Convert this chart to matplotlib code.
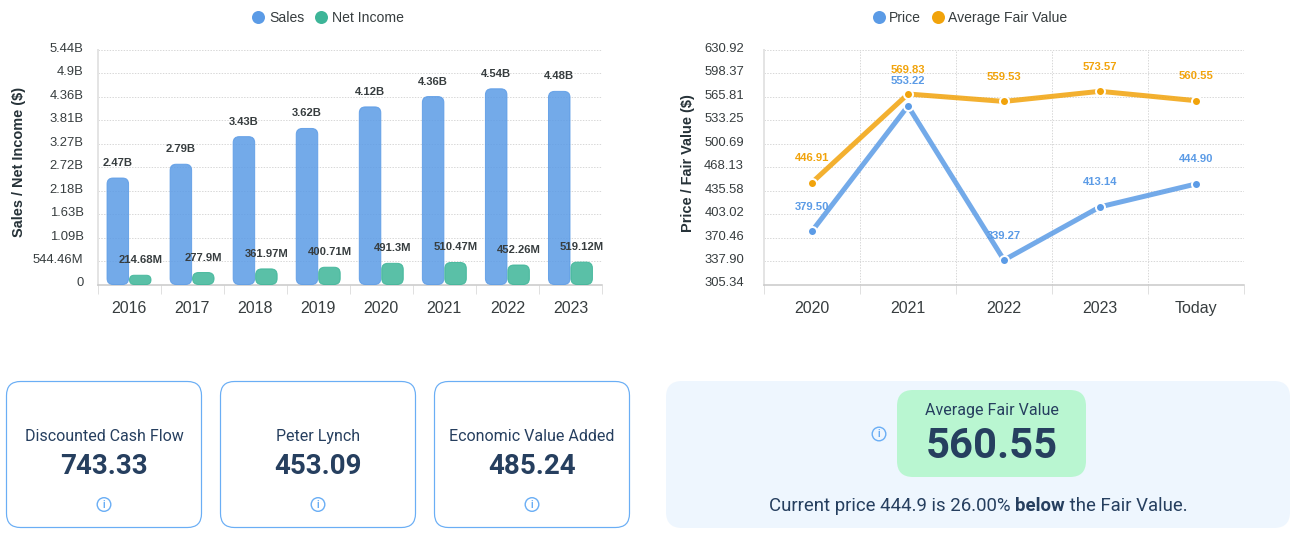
import matplotlib
matplotlib.use("Agg")
import matplotlib.pyplot as plt
from matplotlib.patches import FancyBboxPatch, Circle
from matplotlib.lines import Line2D
from matplotlib.transforms import ScaledTranslation

W, H = 1296, 533
DPI = 100
PX = 72 / DPI  # points per pixel

# ---------- data ----------
years = ["2016", "2017", "2018", "2019", "2020", "2021", "2022", "2023"]
sales = [2.47e9, 2.79e9, 3.43e9, 3.62e9, 4.12e9, 4.36e9, 4.54e9, 4.48e9]
net_income = [214.68e6, 277.9e6, 361.97e6, 400.71e6, 491.3e6, 510.47e6, 452.26e6, 519.12e6]
sales_labels = ["2.47B", "2.79B", "3.43B", "3.62B", "4.12B", "4.36B", "4.54B", "4.48B"]
net_labels = ["214.68M", "277.9M", "361.97M", "400.71M", "491.3M", "510.47M", "452.26M", "519.12M"]
left_ticks = [0, 544.46e6, 1.09e9, 1.63e9, 2.18e9, 2.72e9, 3.27e9, 3.81e9, 4.36e9, 4.9e9, 5.44e9]
left_ticklabels = ["0", "544.46M", "1.09B", "1.63B", "2.18B", "2.72B", "3.27B", "3.81B", "4.36B", "4.9B", "5.44B"]

periods = ["2020", "2021", "2022", "2023", "Today"]
price = [379.50, 553.22, 339.27, 413.14, 444.90]
fair_value = [446.91, 569.83, 559.53, 573.57, 560.55]
right_ticks = [305.34, 337.90, 370.46, 403.02, 435.58, 468.13, 500.69, 533.25, 565.81, 598.37, 630.92]

cards = [("Discounted Cash Flow", "743.33"), ("Peter Lynch", "453.09"), ("Economic Value Added", "485.24")]

# ---------- style ----------
BLUE = "#5B9BE6"
GREEN = "#3DB598"
ORANGE = "#F1A30B"
DARK = "#263F5F"
LABEL = "#373D3F"
GRID = "#D8D8D8"
ICON = "#6AAEF5"
SANS = ["Liberation Sans", "DejaVu Sans"]
RB = ["Roboto", "DejaVu Sans"]

plt.rcParams["font.family"] = SANS
fig = plt.figure(figsize=(W / DPI, H / DPI), dpi=DPI, facecolor="white")


def axes_px(x0, x1, ytop, ybot):
    return fig.add_axes([x0 / W, 1 - ybot / H, (x1 - x0) / W, (ybot - ytop) / H])


def style_axes(ax, edges, centers, names, ypad):
    for s in ("top", "right"):
        ax.spines[s].set_visible(False)
    ax.spines["left"].set_color("#E4E4E4")
    ax.spines["left"].set_linewidth(2 * PX)
    ax.spines["bottom"].set_color("#C8C8C8")
    ax.spines["bottom"].set_linewidth(1.5 * PX)
    ax.set_xticks(edges)
    ax.set_xticklabels([""] * len(edges))
    ax.set_xticks(centers, minor=True)
    ax.set_xticklabels(names, minor=True, fontsize=16 * PX, color="#373D3F")
    ax.tick_params(axis="x", which="major", length=9 * PX, width=1 * PX, color="#E0E0E0")
    ax.tick_params(axis="x", which="minor", length=0, pad=16.5 * PX)
    ax.tick_params(axis="y", length=0, pad=ypad * PX, labelsize=13 * PX, labelcolor="#373D3F")
    shift = ScaledTranslation(0, 2.5 / DPI, fig.dpi_scale_trans)
    for lab in ax.get_yticklabels():
        lab.set_transform(lab.get_transform() + shift)
    ax.set_axisbelow(True)


# ---------- overlay in pixel coordinates for the cards ----------
bg = fig.add_axes([0, 0, 1, 1], zorder=0)
bg.set_xlim(0, W)
bg.set_ylim(H, 0)
bg.axis("off")


def rounded(x0, y0, x1, y1, r, **kw):
    bg.add_patch(FancyBboxPatch((x0, y0), x1 - x0, y1 - y0,
                                boxstyle=f"round,pad=0,rounding_size={r}", **kw))


def info(x, y, r=6.8):
    bg.add_patch(Circle((x, y), r, fc="none", ec=ICON, lw=1.4 * PX))
    bg.text(x, y + 0.4, "i", ha="center", va="center", fontsize=10 * PX, color=ICON,
            family=RB, fontweight="bold")


# ---------- left chart ----------
ax1 = axes_px(97.5, 602, 50, 284.5)
xpos = list(range(len(years)))
ax1.set_xlim(-0.5, len(years) - 0.5)
ax1.set_ylim(0, 5.44e9)
ax1.set_yticks(left_ticks)
ax1.set_yticklabels(left_ticklabels)
ax1.yaxis.grid(True, color=GRID, linestyle=(0, (1.4, 1.4)), linewidth=1 * PX)
style_axes(ax1, [i - 0.5 for i in range(len(years) + 1)], xpos, years, 14)
ax1.set_ylabel("Sales / Net Income ($)", fontsize=14.5 * PX, fontweight="bold", color="#263238")
ax1.yaxis.set_label_coords(26 / W, 1 - 162 / H, transform=fig.transFigure)

band_px = (602 - 97.5) / len(years)
unit_px = 5.44e9 / 234.5
BW = 21.5 / band_px


def round_bar(ax, xc, value, color, edge):
    h_px = value / unit_px
    r_px = min(6, h_px / 2)
    ax.add_patch(FancyBboxPatch((xc - BW / 2, 0), BW, value,
                                boxstyle=f"round,pad=0,rounding_size={r_px / band_px}",
                                mutation_aspect=unit_px * band_px,
                                fc=color, ec=edge, lw=1 * PX, alpha=0.85, zorder=3))


for i in xpos:
    round_bar(ax1, i - 0.178, sales[i], BLUE, BLUE)
    round_bar(ax1, i + 0.178, net_income[i], GREEN, GREEN)
    ax1.annotate(sales_labels[i], (i - 0.178, sales[i]), xytext=(0, 15 * PX), textcoords="offset points",
                 ha="center", va="center", fontsize=11.2 * PX, fontweight="bold", color=LABEL, zorder=5)
    ax1.annotate(net_labels[i], (i + 0.178, net_income[i]), xytext=(0, 15 * PX), textcoords="offset points",
                 ha="center", va="center", fontsize=11.2 * PX, fontweight="bold", color=LABEL, zorder=5)

h1 = [Line2D([], [], ls="", marker="o", ms=13 * PX, color=BLUE, mew=0, label="Sales"),
      Line2D([], [], ls="", marker="o", ms=13 * PX, color=GREEN, mew=0, label="Net Income")]
fig.legend(handles=h1, loc="center", bbox_to_anchor=(326.5 / W, 1 - 18 / H), ncols=2, frameon=False,
           fontsize=14 * PX, labelcolor="#373D3F", handletextpad=0.15, columnspacing=0.5,
           handlelength=1.3, borderpad=0)

# ---------- right chart ----------
ax2 = axes_px(764, 1244, 50, 284.5)
xp = list(range(len(periods)))
ax2.set_xlim(-0.5, len(periods) - 0.5)
ax2.set_ylim(305.34, 630.92)
ax2.set_yticks(right_ticks)
ax2.set_yticklabels([f"{t:.2f}" for t in right_ticks])
ax2.grid(True, which="major", color=GRID, linestyle=(0, (1.4, 1.4)), linewidth=1 * PX)
style_axes(ax2, [i - 0.5 for i in range(len(periods) + 1)], xp, periods, 20)
ax2.set_ylabel("Price / Fair Value ($)", fontsize=14.5 * PX, fontweight="bold", color="#263238")
ax2.yaxis.set_label_coords(695 / W, 1 - 163 / H, transform=fig.transFigure)

for vals, col, z in ((price, BLUE, 3), (fair_value, ORANGE, 4)):
    ax2.plot(xp, vals, color=col, lw=5 * PX, alpha=0.85, zorder=z, solid_capstyle="butt", clip_on=False)
    ax2.plot(xp, vals, ls="", marker="o", ms=9 * PX, mfc=col, mec="white", mew=2 * PX, zorder=z + 2, clip_on=False)
    for x, v in zip(xp, vals):
        ax2.annotate(f"{v:.2f}", (x, v), xytext=(0, 24.5 * PX),
                     textcoords="offset points", ha="center", va="center",
                     fontsize=11.2 * PX, fontweight="bold", color=col, zorder=8)

h2 = [Line2D([], [], ls="", marker="o", ms=13 * PX, color=BLUE, mew=0, label="Price"),
      Line2D([], [], ls="", marker="o", ms=13 * PX, color=ORANGE, mew=0, label="Average Fair Value")]
fig.legend(handles=h2, loc="center", bbox_to_anchor=(968.5 / W, 1 - 18 / H), ncols=2, frameon=False,
           fontsize=14 * PX, labelcolor="#373D3F", handletextpad=0.05, columnspacing=0.6,
           handlelength=1.3, borderpad=0)

# ---------- cards ----------
for (title, value), x0 in zip(cards, (6.5, 220.5, 434.5)):
    x1 = x0 + 195
    xc = (x0 + x1) / 2
    rounded(x0, 381.5, x1, 527.5, 14, fc="white", ec=ICON, lw=1.2 * PX)
    bg.text(xc, 436.5, title, ha="center", va="center", fontsize=16 * PX, color=DARK, family=RB)
    bg.text(xc, 466, value, ha="center", va="center", fontsize=27.8 * PX, color=DARK, family=RB, fontweight="bold")
    info(xc, 504.5)

rounded(666, 381, 1290, 528, 16, fc="#EEF6FE", ec="none")
rounded(897, 390, 1086, 477, 16, fc="#B9F6D1", ec="none")
info(879, 434)
bg.text(991.5, 411, "Average Fair Value", ha="center", va="center", fontsize=16 * PX, color=DARK, family=RB)
bg.text(991.5, 447, f"{fair_value[-1]:.2f}", ha="center", va="center",
        fontsize=41.8 * PX, color=DARK, family=RB, fontweight="bold")

# sentence with a bold word: measure the pieces so that they sit side by side
parts = [(f"Current price {price[-1]:g} is 26.00% ", "normal"), ("below", "bold"), (" the Fair Value.", "normal")]
fig.canvas.draw()
rend = fig.canvas.get_renderer()
arts = [bg.text(0, 506, t.replace(" ", "\u00a0"), ha="left", va="center", fontsize=18.6 * PX, color=DARK,
                family=RB, fontweight=w) for t, w in parts]
widths = [a.get_window_extent(rend).width for a in arts]
x = 978 - sum(widths) / 2
for a, wd in zip(arts, widths):
    a.set_x(x)
    x += wd

fig.savefig("out.png", dpi=DPI, facecolor="white")
